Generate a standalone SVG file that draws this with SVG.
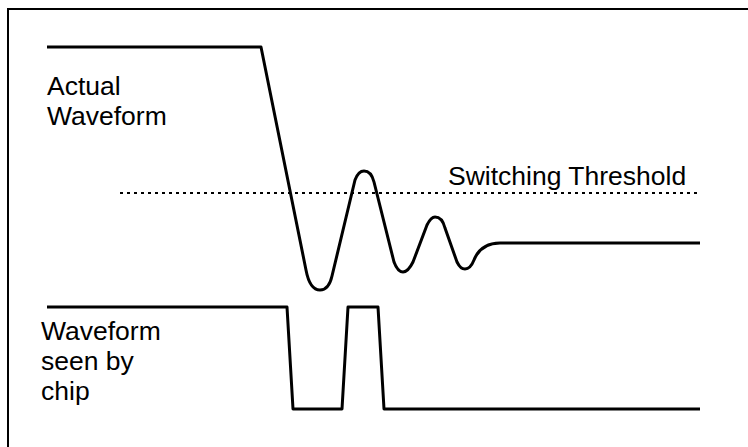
<svg xmlns="http://www.w3.org/2000/svg" width="748" height="447" viewBox="0 0 748 447">
<style>
.t{font-family:"Liberation Sans",Arial,sans-serif;font-size:26.5px;fill:#000}
.w{fill:none;stroke:#000;stroke-width:3;stroke-linejoin:round}
</style>
<rect x="0" y="0" width="748" height="447" fill="#fff"/>
<rect x="8" y="9" width="780" height="480" fill="none" stroke="#000" stroke-width="2"/>
<g id="threshold">
<line x1="120" y1="193" x2="700" y2="193" stroke="#000" stroke-width="2" stroke-dasharray="3 4"/>
<text class="t" x="448" y="185">Switching Threshold</text>
</g>
<g id="actual">
<path class="w" d="M47,47 L261,47 L306,270 C309,286 315,290 320,290 C326,290 330,285 332,276 L355,180 C358,172 361,171 364,171 C368,171 372,174 374,182 L394,262 C397,270 400,272 403,272 C407,272 410,268 413,262 L427,225 C430,219 432,217 435,217 C439,217 443,220 445,228 L457,262 C460,268 462,269 465,269 C469,269 472,265 474,260 C478,250 486,243 500,243 L700,243"/>
<text class="t" x="47" y="95">Actual</text>
<text class="t" x="47" y="125">Waveform</text>
</g>
<g id="chip">
<path class="w" d="M47,307 L287,307 L293,409 L342,409 L348,307 L378,307 L384,409 L700,409"/>
<text class="t" x="41" y="340">Waveform</text>
<text class="t" x="41" y="370">seen by</text>
<text class="t" x="41" y="400">chip</text>
</g>
</svg>
